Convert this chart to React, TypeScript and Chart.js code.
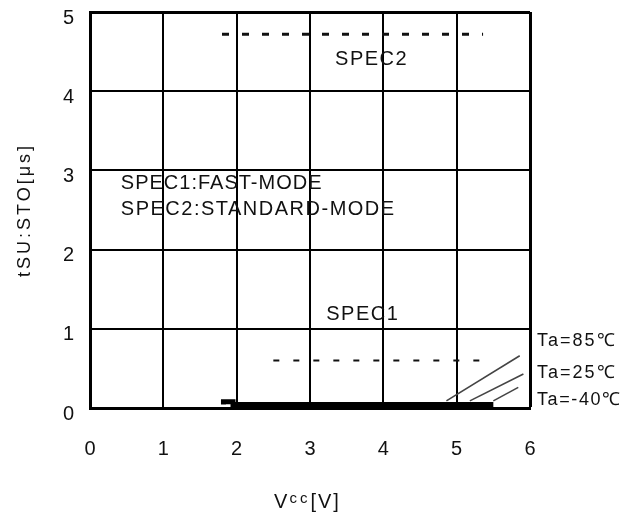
import React, { useEffect, useRef } from 'react';
import { Chart, registerables } from 'chart.js';

Chart.register(...registerables);

const FONT = '"Liberation Sans", Arial, Helvetica, sans-serif';

// ---- data (Vcc [V] vs tSU:STO [us]) ----
const xTickValues = [0, 1, 2, 3, 4, 5, 6];
const yTickValues = [0, 1, 2, 3, 4, 5];

const baseVcc = [1.82, 1.82, 1.95, 1.95, 5.5];
const baseT = [0.045, 0.08, 0.08, 0.045, 0.045];

const ta85Vcc = [4.86, 5.86];
const ta85T = [0.09, 0.66];
const ta25Vcc = [5.18, 5.91];
const ta25T = [0.09, 0.43];
const taM40Vcc = [5.5, 5.84];
const taM40T = [0.09, 0.26];

const spec2Vcc = [1.8, 5.36];
const spec2T = [4.72, 4.72];
const spec1Vcc = [2.5, 5.36];
const spec1T = [0.6, 0.6];

const noteLabels = ['SPEC2', 'SPEC1', 'SPEC1:FAST-MODE', 'SPEC2:STANDARD-MODE', 'Ta=85℃', 'Ta=25℃', 'Ta=-40℃'];
const yTitle = 'tSU:STO[μs]';
const xTitleParts = ['V', 'cc', '[V]'];

// ---- layout of annotations (data-unit anchors) ----
const notes = [
  { i: 0, x: 3.83, y: 4.40, align: 'center', size: 20, ls: 1.5 },
  { i: 1, x: 3.71, y: 1.18, align: 'center', size: 20, ls: 1.5 },
  { i: 2, x: 0.42, y: 2.84, align: 'left', size: 20, ls: 1.0 },
  { i: 3, x: 0.42, y: 2.51, align: 'left', size: 20, ls: 1.5 },
  { i: 4, x: 6.095, y: 0.85, align: 'left', size: 18, ls: 2 },
  { i: 5, x: 6.095, y: 0.44, align: 'left', size: 18, ls: 2 },
  { i: 6, x: 6.095, y: 0.10, align: 'left', size: 18, ls: 1.6 },
];

function pts(xs: number[], ys: number[]) {
  return xs.map((v, k) => ({ x: v, y: ys[k] }));
}

const notesPlugin = {
  id: 'notesPlugin',
  afterDraw(chart: any) {
    const { ctx, scales } = chart;
    const xs = scales.x;
    const ys = scales.y;
    ctx.save();
    ctx.fillStyle = '#111';
    ctx.textBaseline = 'middle';
    for (const n of notes) {
      ctx.font = `${n.size}px ${FONT}`;
      (ctx as any).letterSpacing = `${n.ls}px`;
      ctx.textAlign = n.align as CanvasTextAlign;
      let px = xs.getPixelForValue(n.x);
      if (n.align === 'center') px += n.ls / 2;
      ctx.fillText(noteLabels[n.i], px, ys.getPixelForValue(n.y));
    }

    // y axis title (rotated)
    ctx.save();
    ctx.font = `18px ${FONT}`;
    (ctx as any).letterSpacing = '3px';
    ctx.translate(25, 211.5);
    ctx.rotate(-Math.PI / 2);
    ctx.textAlign = 'center';
    ctx.textBaseline = 'middle';
    ctx.fillText(yTitle, 1.5, 0);
    ctx.restore();

    // x axis title: V + small cc + [V]
    ctx.textAlign = 'left';
    ctx.textBaseline = 'alphabetic';
    const bigFont = `20px ${FONT}`;
    const smallFont = `15px ${FONT}`;
    ctx.font = bigFont;
    (ctx as any).letterSpacing = '2px';
    const w1 = ctx.measureText(xTitleParts[0]).width;
    const w3 = ctx.measureText(xTitleParts[2]).width;
    ctx.font = smallFont;
    (ctx as any).letterSpacing = '3px';
    const w2 = ctx.measureText(xTitleParts[1]).width;
    const total = w1 + w2 + w3;
    let sx = 307.5 - total / 2;
    const base = 508;
    ctx.font = bigFont;
    (ctx as any).letterSpacing = '2px';
    ctx.fillText(xTitleParts[0], sx, base);
    sx += w1;
    ctx.font = smallFont;
    (ctx as any).letterSpacing = '3px';
    ctx.fillText(xTitleParts[1], sx, base - 5);
    sx += w2;
    ctx.font = bigFont;
    (ctx as any).letterSpacing = '2px';
    ctx.fillText(xTitleParts[2], sx, base);
    ctx.restore();
  },
};

export default function App() {
  const ref = useRef<HTMLCanvasElement | null>(null);

  useEffect(() => {
    document.body.style.margin = '0';
    const canvas = ref.current;
    if (!canvas) return;
    const thin = { borderColor: '#444', borderWidth: 1.6, pointRadius: 0, fill: false, tension: 0 };
    const chart = new Chart(canvas, {
      type: 'line',
      data: {
        datasets: [
          { label: 'base', data: pts(baseVcc, baseT), borderColor: '#000', borderWidth: 5, pointRadius: 0, fill: false, tension: 0, borderJoinStyle: 'miter' },
          { label: 'Ta=85℃', data: pts(ta85Vcc, ta85T), ...thin },
          { label: 'Ta=25℃', data: pts(ta25Vcc, ta25T), ...thin },
          { label: 'Ta=-40℃', data: pts(taM40Vcc, taM40T), ...thin },
          { label: 'SPEC2', data: pts(spec2Vcc, spec2T), borderColor: '#111', borderWidth: 3, borderDash: [7, 13], pointRadius: 0, fill: false },
          { label: 'SPEC1', data: pts(spec1Vcc, spec1T), borderColor: '#111', borderWidth: 2, borderDash: [6, 14], pointRadius: 0, fill: false },
        ],
      },
      options: {
        animation: false,
        responsive: false,
        devicePixelRatio: 1,
        layout: { padding: { top: 12, right: 104, left: 0, bottom: 0 } },
        plugins: { legend: { display: false }, tooltip: { enabled: false } },
        scales: {
          x: {
            type: 'linear',
            min: 0,
            max: 6,
            afterBuildTicks: (s: any) => { s.ticks = xTickValues.map((v) => ({ value: v })); },
            ticks: { color: '#111', font: { size: 20, family: FONT }, padding: 29, maxRotation: 0 },
            grid: {
              color: '#000',
              lineWidth: (c: any) => (c.tick && c.tick.value === 6 ? 3 : 2),
              drawTicks: false,
            },
            border: { display: true, color: '#000', width: 3 },
            afterFit: (s: any) => { s.height = 115; s.paddingLeft = 0; s.paddingRight = 0; },
          },
          y: {
            type: 'linear',
            min: 0,
            max: 5,
            afterBuildTicks: (s: any) => { s.ticks = yTickValues.map((v) => ({ value: v })); },
            ticks: { color: '#111', font: { size: 20, family: FONT }, padding: 16, labelOffset: 6 },
            grid: {
              color: '#000',
              lineWidth: (c: any) => (c.tick && c.tick.value === 5 ? 3 : 2),
              drawTicks: false,
            },
            border: { display: true, color: '#000', width: 3 },
            afterFit: (s: any) => { s.width = 90; s.paddingTop = 0; s.paddingBottom = 0; },
          },
        },
      },
      plugins: [notesPlugin],
    } as any);
    return () => chart.destroy();
  }, []);

  return (
    <div style={{ width: 634, height: 523, background: '#fff' }}>
      <canvas ref={ref} width={634} height={523} style={{ display: 'block' }} />
    </div>
  );
}
